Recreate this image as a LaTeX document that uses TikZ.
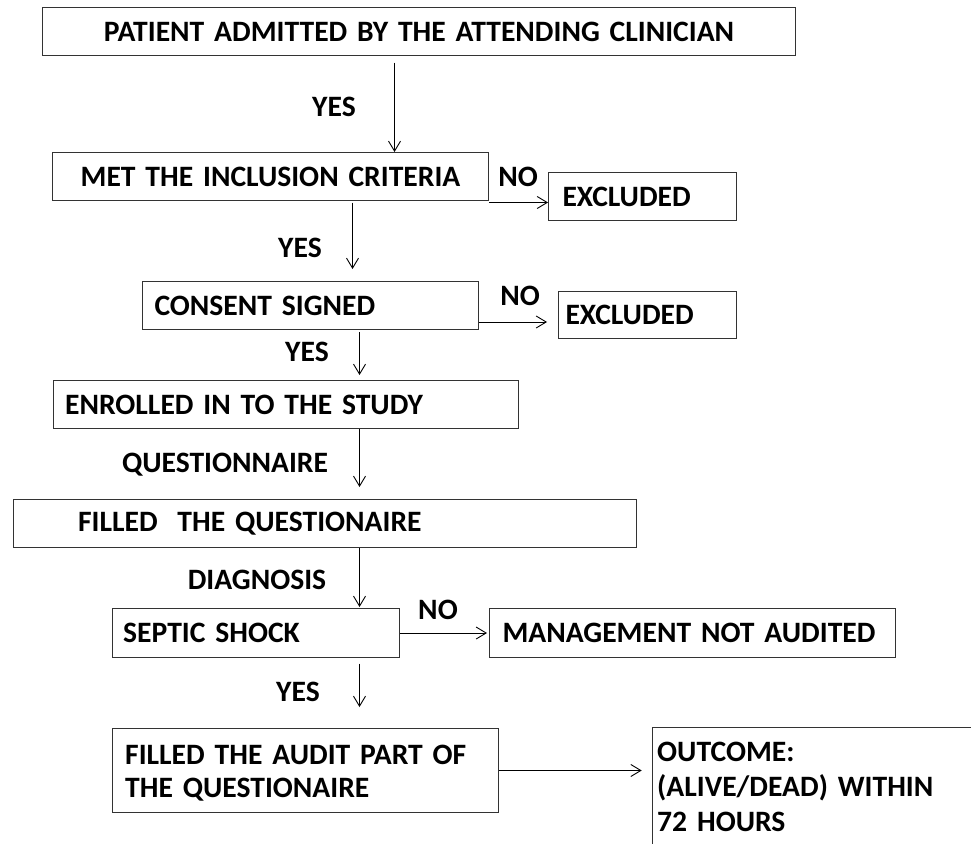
\documentclass[tikz,border=0pt]{standalone}
\usepackage{fontspec}
\setmainfont{Carlito}
\usetikzlibrary{arrows.meta}

\begin{document}
\begin{tikzpicture}[
    x=1pt, y=-1pt,
    txt/.style={font=\bfseries\fontsize{29.6}{34}\selectfont},
    box/.style={txt, draw=black!80, line width=1pt, anchor=north west,
                align=left, inner ysep=0pt, minimum height=48pt},
    lbl/.style={txt, inner sep=0pt},
    arr/.style={-{Straight Barb[length=10pt,width=12pt]}, line width=0.9pt},
  ]
  \useasboundingbox (0,0) rectangle (971,843);
  \clip (0,0) rectangle (971,843);

  %% Main chain
  \node[box, align=center, inner xsep=0pt, text width=753pt] (admit)   at (42,7)      {PATIENT ADMITTED BY THE ATTENDING CLINICIAN};
  \node[box, align=center, inner xsep=0pt, text width=436pt] (incl)    at (52,152)    {MET THE INCLUSION CRITERIA};
  \node[box, inner xsep=12pt, text width=312pt]              (consent) at (142,281)   {CONSENT SIGNED};
  \node[box, inner xsep=12pt, text width=441pt]              (enrol)   at (52.6,380)  {ENROLLED IN TO THE STUDY};
  \node[box, inner xsep=65pt, text width=493.4pt]            (filled)  at (12.6,499)  {FILLED\ \ THE QUESTIONAIRE};
  \node[box, inner xsep=11pt, text width=265.3pt, minimum height=49pt] (septic) at (111.7,608) {SEPTIC SHOCK};
  \node[box, inner xsep=13pt, text width=360.3pt, minimum height=84pt] (audit)  at (111.7,728) {\rule{0pt}{24pt}FILLED THE AUDIT PART OF\\[-1pt]THE QUESTIONAIRE};

  %% Side boxes
  \node[box, inner xsep=14pt, text width=160pt]              (excla)   at (548,172)   {EXCLUDED};
  \node[box, inner xsep=7pt, text width=164pt, minimum height=47pt] (exclb) at (558,291) {EXCLUDED};
  \node[box, inner xsep=13pt, text width=380pt, minimum height=49pt] (mgmt) at (489,608) {MANAGEMENT NOT AUDITED};
  \node[box, inner xsep=5pt, inner ysep=15pt, text width=330pt] (outcome) at (651.7,727) {OUTCOME:\\[1pt](ALIVE/DEAD) WITHIN\\[1pt]72 HOURS};

  %% Downward arrows
  \draw[arr] ([xshift=-24.5pt,yshift=-6.7pt]admit.south) -- ([xshift=-24.5pt]admit.south |- incl.north);
  \draw[arr, shorten >=12pt] ([xshift=82pt,yshift=-1.7pt]incl.south) -- ([xshift=82pt]incl.south |- consent.north);
  \draw[arr, shorten >=5pt] ([xshift=49pt,yshift=-2pt]consent.south) -- ([xshift=49pt]consent.south |- enrol.north);
  \draw[arr, shorten >=12pt] ([xshift=73.9pt]enrol.south) -- ([xshift=73.9pt]enrol.south |- filled.north);
  \draw[arr, shorten >=1pt] ([xshift=34.7pt]filled.south) -- ([xshift=34.7pt]filled.south |- septic.north);
  \draw[arr, shorten >=21pt] ([xshift=103.65pt,yshift=-5.7pt]septic.south) -- ([xshift=103.65pt]septic.south |- audit.north);

  %% Sideways arrows
  \draw[arr] ([yshift=-1.5pt]incl.south east) -- ([yshift=-1.5pt]incl.south east -| excla.west);
  \draw[arr, shorten >=11pt] ([yshift=8pt]consent.south east) -- ([yshift=8pt]consent.south east -| exclb.west);
  \draw[arr, shorten >=2pt] (septic.east) -- (mgmt.west);
  \draw[arr, shorten >=10pt] (audit.east) -- (audit.east -| outcome.west);

  %% Labels
  \node[lbl] (yesa) at (334,107) {YES};
  \node[lbl] (noa)  at (518,177) {NO};
  \node[lbl] (yesb) at (300,248) {YES};
  \node[lbl] (nob)  at (520,296) {NO};
  \node[lbl] (yesc) at (307,352) {YES};
  \node[lbl] (qst)  at (225,465) {QUESTIONNAIRE};
  \node[lbl] (diag) at (257,580) {DIAGNOSIS};
  \node[lbl] (noc)  at (438,610) {NO};
  \node[lbl] (yesd) at (298,692) {YES};
\end{tikzpicture}
\end{document}
